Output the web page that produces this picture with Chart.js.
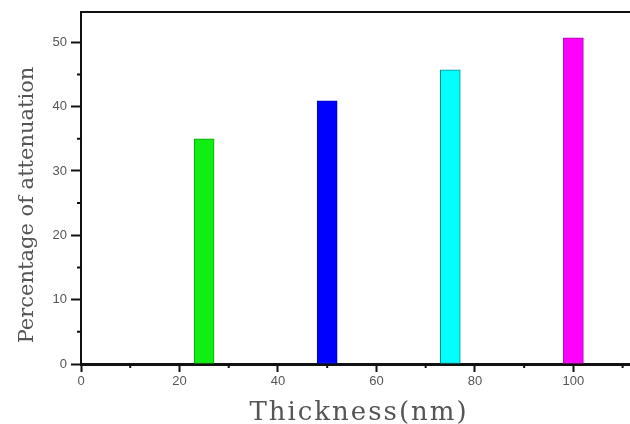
<!DOCTYPE html>
<html>
<head>
<meta charset="utf-8">
<script src="https://cdn.jsdelivr.net/npm/chart.js@4"></script>
<style>
  html, body { margin: 0; padding: 0; background: #fff; }
  #wrap { width: 630px; height: 424px; }
</style>
</head>
<body>
<div id="wrap"><canvas id="chart"></canvas></div>
<script>
const thickness = [25, 50, 75, 100];
const attenuation = [35.0, 40.9, 45.7, 50.7];
const barColors = ["#11ee11", "#0000ff", "#00ffff", "#ff00ff"];
const barEdges = ["#119911", "#0000bb", "#118888", "#aa00aa"];
const xMinorTicks = [10, 30, 50, 70, 90, 110];
const yMinorTicks = [5, 15, 25, 35, 45];
const xTitle = "Thickness(nm)";
const yTitle = "Percentage of attenuation";

// minor ticks, top frame line and the axis titles (serif, spaced)
const frame = {
  id: "frame",
  afterDraw(chart) {
    const { ctx, chartArea, scales } = chart;
    ctx.save();
    ctx.strokeStyle = "#111";
    ctx.lineWidth = 2;
    ctx.beginPath();
    ctx.moveTo(chartArea.left - 1, chartArea.top);
    ctx.lineTo(chartArea.right, chartArea.top);
    ctx.stroke();
    ctx.beginPath();
    xMinorTicks.forEach(v => {
      const px = scales.x.getPixelForValue(v);
      ctx.moveTo(px, chartArea.bottom);
      ctx.lineTo(px, chartArea.bottom + 4);
    });
    yMinorTicks.forEach(v => {
      const py = scales.y.getPixelForValue(v);
      ctx.moveTo(chartArea.left, py);
      ctx.lineTo(chartArea.left - 4, py);
    });
    ctx.stroke();

    ctx.fillStyle = "#555";
    ctx.textAlign = "center";
    ctx.textBaseline = "alphabetic";
    ctx.font = "26px 'DejaVu Serif', serif";
    ctx.letterSpacing = "2px";
    ctx.fillText(xTitle, 359, 420);
    ctx.letterSpacing = "0px";
    ctx.font = "21px 'DejaVu Serif', serif";
    ctx.translate(33, 205);
    ctx.rotate(-Math.PI / 2);
    ctx.fillText(yTitle, 0, 0);
    ctx.restore();
  }
};

const tickFont = { family: "'Liberation Sans', Arial, sans-serif", size: 13 };

new Chart(document.getElementById("chart"), {
  type: "bar",
  data: {
    datasets: [{
      data: thickness.map((t, i) => ({ x: t, y: attenuation[i] })),
      backgroundColor: barColors,
      borderColor: barEdges,
      borderWidth: 1,
      borderSkipped: false,
      barThickness: 20
    }]
  },
  options: {
    responsive: true,
    maintainAspectRatio: false,
    animation: false,
    layout: { padding: { top: 12, right: 0, left: 0, bottom: 0 } },
    plugins: { legend: { display: false }, tooltip: { enabled: false } },
    scales: {
      x: {
        type: "linear",
        min: 0,
        max: 111.5,
        offset: false,
        grid: { offset: false, drawOnChartArea: false, tickLength: 8, tickColor: "#111", tickWidth: 2 },
        border: { color: "#111", width: 3 },
        ticks: { stepSize: 20, includeBounds: false, padding: 2, color: "#555", font: tickFont },
        afterFit(scale) { scale.height = 60; }
      },
      y: {
        min: 0,
        max: 54.7,
        grid: { drawOnChartArea: false, tickLength: 10, tickColor: "#111", tickWidth: 2 },
        border: { color: "#111", width: 2 },
        ticks: { stepSize: 10, includeBounds: false, padding: 4, color: "#555", font: tickFont },
        afterFit(scale) { scale.width = 81; }
      }
    }
  },
  plugins: [frame]
});
</script>
</body>
</html>
